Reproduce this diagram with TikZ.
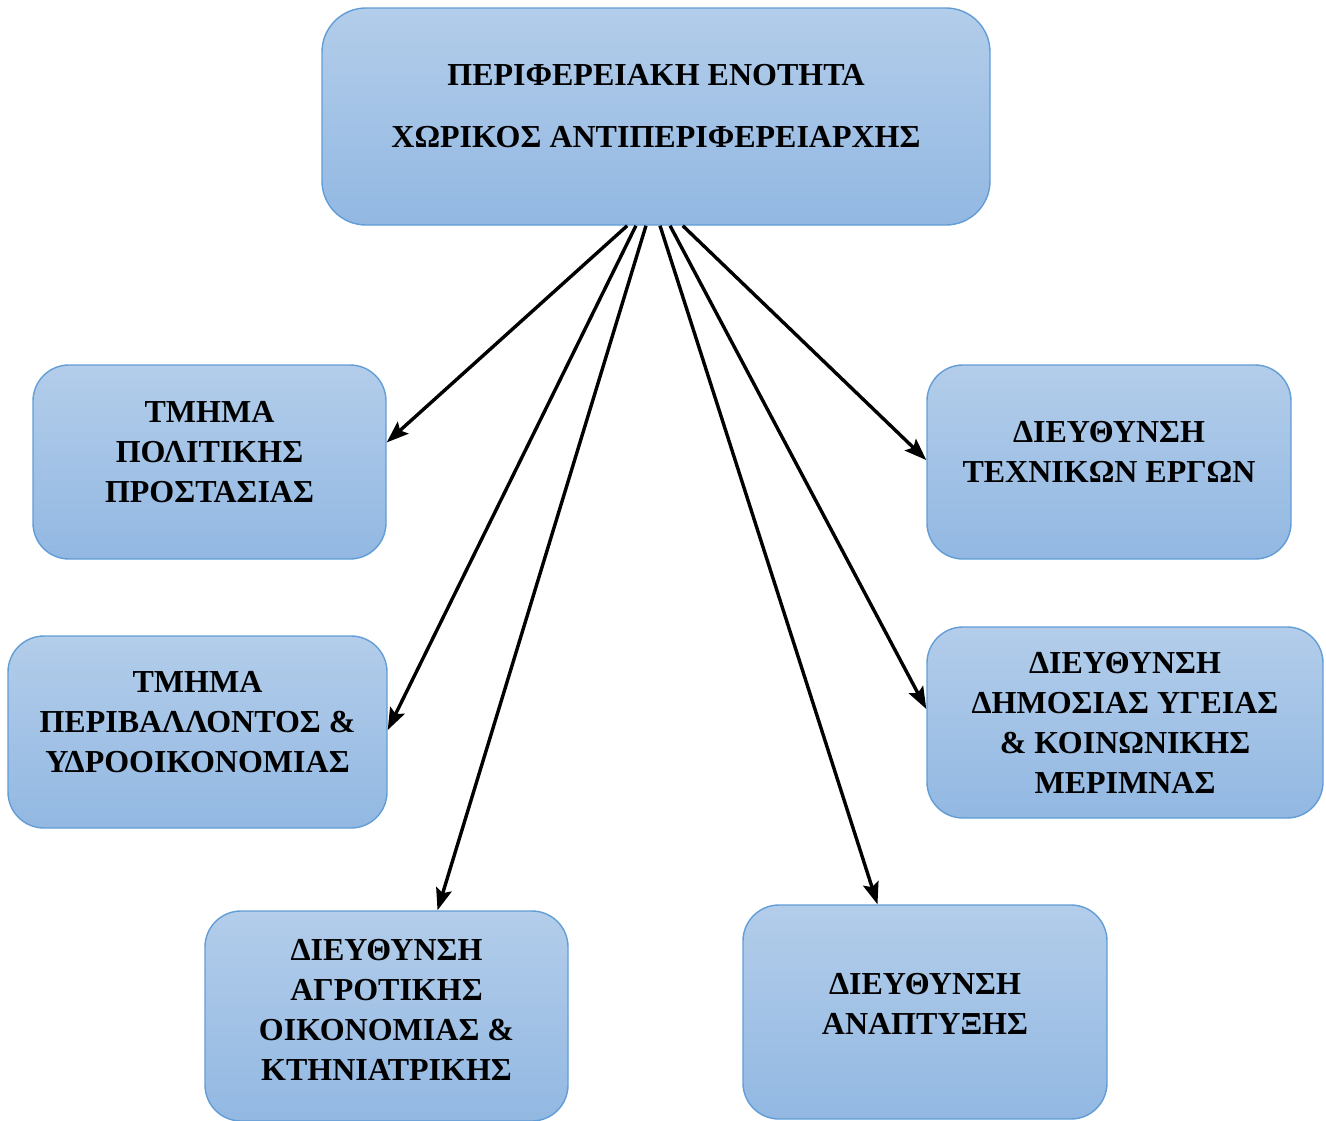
\documentclass[tikz,border=0pt]{standalone}
\usepackage{fontspec}
\setmainfont{Liberation Serif}
\usetikzlibrary{positioning, arrows.meta, calc}

\definecolor{boxtop}{RGB}{179,205,234}
\definecolor{boxbot}{RGB}{146,184,226}
\definecolor{boxline}{RGB}{98,157,214}

\begin{document}
\begin{tikzpicture}[x=1pt, y=-1pt,
    unit/.style={rectangle, rounded corners=36pt, draw=boxline, line width=1.4pt,
        top color=boxtop, bottom color=boxbot, align=center, inner sep=0pt,
        font=\fontsize{32}{40}\selectfont\bfseries},
    arr/.style={-{Stealth[length=22pt, width=16pt, inset=4pt]}, line width=3.4pt}]
    \useasboundingbox (0,0) rectangle (1326,1120);

    \node[unit, minimum width=668pt, minimum height=217pt, rounded corners=44pt, text depth=22pt] (top) at (656,116.5)
        {ΠΕΡΙΦΕΡΕΙΑΚΗ ΕΝΟΤΗΤΑ\\[22pt]ΧΩΡΙΚΟΣ ΑΝΤΙΠΕΡΙΦΕΡΕΙΑΡΧΗΣ};
    \node[unit, minimum width=353pt, minimum height=194pt, text depth=20pt] (pol) at (209.5,462)
        {ΤΜΗΜΑ\\ΠΟΛΙΤΙΚΗΣ\\ΠΡΟΣΤΑΣΙΑΣ};
    \node[unit, minimum width=379pt, minimum height=192pt, text depth=20pt] (per) at (197.5,732)
        {ΤΜΗΜΑ\\ΠΕΡΙΒΑΛΛΟΝΤΟΣ \&\\ΥΔΡΟΟΙΚΟΝΟΜΙΑΣ};
    \node[unit, minimum width=363pt, minimum height=210pt, text depth=12pt] (agr) at (386.5,1016)
        {ΔΙΕΥΘΥΝΣΗ\\ΑΓΡΟΤΙΚΗΣ\\ΟΙΚΟΝΟΜΙΑΣ \&\\ΚΤΗΝΙΑΤΡΙΚΗΣ};
    \node[unit, minimum width=364pt, minimum height=214pt, text depth=16pt] (anp) at (925,1012)
        {ΔΙΕΥΘΥΝΣΗ\\ΑΝΑΠΤΥΞΗΣ};
    \node[unit, minimum width=364pt, minimum height=194pt, text depth=20pt] (tex) at (1109,462)
        {ΔΙΕΥΘΥΝΣΗ\\ΤΕΧΝΙΚΩΝ ΕΡΓΩΝ};
    \node[unit, minimum width=396pt, minimum height=191pt] (yge) at (1125,722.5)
        {ΔΙΕΥΘΥΝΣΗ\\ΔΗΜΟΣΙΑΣ ΥΓΕΙΑΣ\\\& ΚΟΙΝΩΝΙΚΗΣ\\ΜΕΡΙΜΝΑΣ};

    \path[arr]
    ($(top.south west)!.457!(top.south east)$) edge ($(pol.north east)!.40!(pol.south east)$)
    ($(top.south west)!.470!(top.south east)$) edge ($(per.north east)!.49!(per.south east)$)
    ($(top.south west)!.485!(top.south east)$) edge ($(agr.north west)!.64!(agr.north east)$)
    ($(top.south west)!.506!(top.south east)$) edge ($(anp.north west)!.37!(anp.north east)$)
    ($(top.south west)!.521!(top.south east)$) edge ($(yge.north west)!.43!(yge.south west)$)
    ($(top.south west)!.540!(top.south east)$) edge ($(tex.north west)!.49!(tex.south west)$);
\end{tikzpicture}
\end{document}
